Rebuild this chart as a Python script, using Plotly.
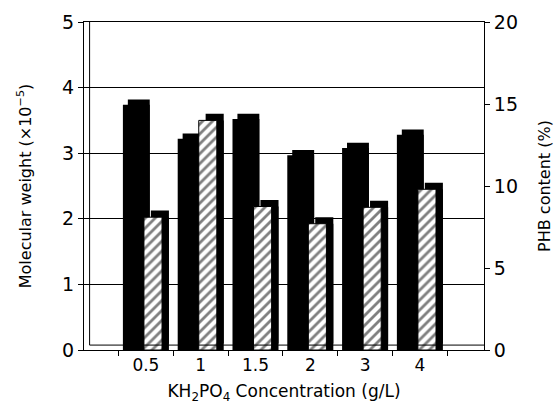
import plotly.graph_objects as go

# ---- data ----
categories = ["0.5", "1", "1.5", "2", "3", "4"]
mol_weight = [3.74, 3.22, 3.52, 2.97, 3.08, 3.28]      # x10^-5, left axis
phb_content = [8.1, 14.0, 8.75, 7.7, 8.7, 9.8]          # %, right axis

FONT = "DejaVu Sans"
depth_left = 0.08     # 3-D depth in left-axis units
depth_right = 0.4     # 3-D depth in right-axis units

fig = go.Figure()

# Molecular weight: solid black bars with a 3-D depth step
fig.add_trace(go.Bar(x=categories, y=mol_weight, yaxis="y", marker=dict(color="black", line=dict(width=0)),
                     offset=-0.42, width=0.49, showlegend=False, hoverinfo="skip"))
fig.add_trace(go.Bar(x=categories, y=mol_weight, base=depth_left, yaxis="y",
                     marker=dict(color="black", line=dict(width=0)),
                     offset=-0.33, width=0.4, showlegend=False, hoverinfo="skip"))

# PHB content: hatched bars with a black 3-D shadow
fig.add_trace(go.Bar(x=categories, y=phb_content, yaxis="y2", marker=dict(color="black", line=dict(width=0)),
                     offset=0.09, width=0.33, showlegend=False, hoverinfo="skip"))
fig.add_trace(go.Bar(x=categories, y=phb_content, base=depth_right, yaxis="y2",
                     marker=dict(color="black", line=dict(width=0)),
                     offset=0.09, width=0.33, showlegend=False, hoverinfo="skip"))
fig.add_trace(go.Bar(x=categories, y=phb_content, yaxis="y2",
                     marker=dict(color="white", line=dict(color="black", width=1),
                                 pattern=dict(shape="/", fgcolor="black", bgcolor="white",
                                              size=7, solidity=0.4)),
                     offset=-0.036, width=0.33, showlegend=False, hoverinfo="skip"))

fig.update_layout(
    width=554, height=404,
    margin=dict(l=84, r=70, t=22, b=54),
    paper_bgcolor="white", plot_bgcolor="white",
    barmode="overlay",
    font=dict(family=FONT, size=16, color="black"),
    xaxis=dict(type="category", range=[-1.13, 6.17], showline=True, linecolor="black", linewidth=1,
               mirror=True, ticks="outside", tickson="boundaries", ticklen=5, tickcolor="black",
               showgrid=False, tickfont=dict(size=17), automargin=False,
               title=dict(text="KH<sub>2</sub>PO<sub>4</sub> Concentration (g/L)", standoff=12,
                          font=dict(size=17))),
    yaxis=dict(range=[0, 5], dtick=1, showline=True, linecolor="black", linewidth=1,
               ticks="outside", ticklen=5, tickcolor="black", showgrid=True, gridcolor="black",
               gridwidth=1, zeroline=False, tickfont=dict(size=19), automargin=False,
               title=dict(text="Molecular weight (×10<sup>−5</sup>)", standoff=26, font=dict(size=16))),
    yaxis2=dict(range=[0, 20], dtick=5, overlaying="y", side="right", showline=True,
                linecolor="black", linewidth=1, ticks="outside", ticklen=5, tickcolor="black",
                showgrid=False, zeroline=False, tickfont=dict(size=19), automargin=False,
                title=dict(text="PHB content (%)", standoff=28, font=dict(size=16))),
    shapes=[
        dict(type="line", xref="paper", yref="paper", x0=0.014, x1=0.014, y0=0.015, y1=1,
             line=dict(color="black", width=1)),
        dict(type="line", xref="paper", yref="paper", x0=0.014, x1=1, y0=0.015, y1=0.015,
             line=dict(color="black", width=1)),
    ],
)

fig.write_html("out.html")
